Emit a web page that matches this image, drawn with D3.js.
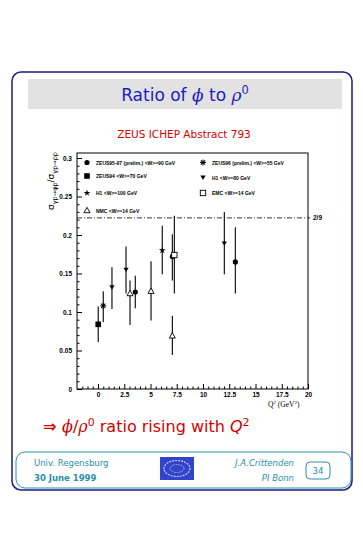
<!DOCTYPE html>
<html><head><meta charset="utf-8">
<script src="https://cdn.jsdelivr.net/npm/d3@7"></script>
<style>
html,body{margin:0;padding:0;background:#fff;}
svg{display:block;}
</style></head>
<body>
<svg id="c" width="363" height="535"></svg>
<script>
// ---- data ----
const xTicks = [0, 2.5, 5, 7.5, 10, 12.5, 15, 17.5, 20];
const xTickLabels = ["0", "2.5", "5", "7.5", "10", "12.5", "15", "17.5", "20"];
const yTicks = [0, 0.05, 0.1, 0.15, 0.2, 0.25, 0.3];
const yTickLabels = ["0", "0.05", "0.1", "0.15", "0.2", "0.25", "0.3"];
const refValue = 2 / 9;
const refLabel = "2/9";

const zeus9597 = [ {q:3.55, v:0.126, lo:0.105, hi:0.147}, {q:7.08, v:0.172, lo:0.141, hi:0.201}, {q:13.08, v:0.165, lo:0.124, hi:0.210} ];
const zeus94   = [ {q:0.02, v:0.084, lo:0.061, hi:0.107} ];
const h1w100   = [ {q:6.12, v:0.180, lo:0.149, hi:0.212} ];
const nmc      = [ {q:3.05, v:0.124, lo:0.083, hi:0.141}, {q:5.05, v:0.127, lo:0.089, hi:0.166}, {q:7.08, v:0.069, lo:0.044, hi:0.095} ];
const zeus96   = [ {q:0.50, v:0.108, lo:0.087, hi:0.127} ];
const h1w80    = [ {q:1.33, v:0.132, lo:0.104, hi:0.158}, {q:2.67, v:0.155, lo:0.124, hi:0.185}, {q:12.03, v:0.189, lo:0.149, hi:0.230} ];
const emc      = [ {q:7.27, v:0.174, lo:0.124, hi:0.225} ];

const seriesNames = ["ZEUS95-97 (prelim.) <W>=90 GeV", "ZEUS94 <W>=70 GeV", "H1 <W>=100 GeV", "NMC <W>=14 GeV",
                     "ZEUS96 (prelim.) <W>=55 GeV", "H1 <W>=80 GeV", "EMC <W>=14 GeV"];

// ---- page ----
const svg = d3.select("#c");
const navy = "#1a1a8a", teal = "#2a8fa8", red = "#d40000", blue = "#1c1cc0";

svg.append("rect").attr("x",12).attr("y",72).attr("width",340).attr("height",418)
  .attr("rx",9).attr("fill","none").attr("stroke",navy).attr("stroke-width",1.5);
svg.append("rect").attr("x",28).attr("y",79).attr("width",314).attr("height",30).attr("fill","#e2e2e2");
const title = svg.append("text").attr("x",185).attr("y",101).attr("text-anchor","middle")
  .attr("font-family","DejaVu Sans, sans-serif").attr("font-size",17).attr("fill",blue);
title.append("tspan").text("Ratio of ");
title.append("tspan").attr("font-style","italic").attr("font-family","DejaVu Serif, serif").text("ϕ");
title.append("tspan").text(" to ");
title.append("tspan").attr("font-style","italic").attr("font-family","DejaVu Serif, serif").text("ρ");
title.append("tspan").attr("font-size",11.5).attr("dy",-7).text("0");

svg.append("text").attr("x",184).attr("y",138).attr("text-anchor","middle")
  .attr("font-family","DejaVu Sans, sans-serif").attr("font-size",10.5).attr("fill",red).text("ZEUS ICHEP Abstract 793");

// ---- chart ----
const x = d3.scaleLinear().domain([-2, 20]).range([77, 308]);
const y = d3.scaleLinear().domain([0, 0.3065]).range([389, 153]);
const g = svg.append("g");

g.append("rect").attr("x",77).attr("y",153).attr("width",231).attr("height",236)
  .attr("fill","none").attr("stroke","#000").attr("stroke-width",1);

const fontAx = "Liberation Sans, Arial, sans-serif";
// minor ticks
const xMinor = d3.range(-1.5, 20.01, 0.5).filter(v => xTicks.indexOf(+v.toFixed(2)) < 0);
g.append("g").attr("transform","translate(0,389)")
  .call(d3.axisBottom(x).tickValues(xMinor).tickSize(-2.5).tickFormat(""))
  .call(a => a.select(".domain").remove());
const yMinor = d3.range(0.01, 0.3001, 0.01).filter(v => Math.round(v*1000) % 50 !== 0);
g.append("g").attr("transform","translate(77,0)")
  .call(d3.axisLeft(y).tickValues(yMinor).tickSize(-2.5).tickFormat(""))
  .call(a => a.select(".domain").remove());
// major
const xa = g.append("g").attr("transform","translate(0,389)")
  .call(d3.axisBottom(x).tickValues(xTicks).tickSize(-5).tickPadding(3)
    .tickFormat((d,i) => xTickLabels[i]));
xa.select(".domain").remove();
xa.selectAll("text").attr("font-family",fontAx).attr("font-size",6.5).attr("font-weight","bold");
const ya = g.append("g").attr("transform","translate(77,0)")
  .call(d3.axisLeft(y).tickValues(yTicks).tickSize(-5).tickPadding(5)
    .tickFormat((d,i) => yTickLabels[i]));
ya.select(".domain").remove();
ya.selectAll("text").attr("font-family",fontAx).attr("font-size",6.5).attr("font-weight","bold");

// reference line
g.append("line").attr("x1",77).attr("x2",310).attr("y1",y(refValue)).attr("y2",y(refValue))
  .attr("stroke","#000").attr("stroke-width",0.8).attr("stroke-dasharray","5,2,1,2");
g.append("text").attr("x",313).attr("y",y(refValue)+2.5).attr("font-family",fontAx)
  .attr("font-size",6.5).attr("font-weight","bold").text(refLabel);

// axis titles
const xt = g.append("text").attr("x",268).attr("y",407).attr("font-family","Liberation Serif, serif").attr("font-size",7.5);
xt.append("tspan").text("Q");
xt.append("tspan").attr("font-size",5).attr("dy",-3).text("2");
xt.append("tspan").attr("dy",3).text(" (GeV");
xt.append("tspan").attr("font-size",5).attr("dy",-3).text("2");
xt.append("tspan").attr("dy",3).text(")");

const yt = g.append("text").attr("transform","translate(54,152) rotate(-90)").attr("text-anchor","end")
  .attr("font-family","DejaVu Sans, sans-serif").attr("font-size",9);
yt.append("tspan").text("σ");
yt.append("tspan").attr("font-size",6.5).attr("dy",2.5).text("γp→φp");
yt.append("tspan").attr("dy",-2.5).text("/σ");
yt.append("tspan").attr("font-size",6.5).attr("dy",2.5).text("γp→ρp");

// symbols
function marker(sel, type) {
  if (type === "fcircle") sel.append("circle").attr("r",2.6).attr("fill","#000");
  else if (type === "fsquare") sel.append("rect").attr("x",-2.8).attr("y",-2.8).attr("width",5.6).attr("height",5.6).attr("fill","#000");
  else if (type === "star") sel.append("path").attr("d", d3.symbol(d3.symbolStar, 14)()).attr("fill","#000");
  else if (type === "otri") sel.append("path").attr("d","M0,-3.2L3,2.2L-3,2.2Z").attr("fill","#fff").attr("stroke","#000").attr("stroke-width",0.9);
  else if (type === "ast") {
    [0,45,90,135].forEach(a => sel.append("line").attr("x1",0).attr("y1",-3).attr("x2",0).attr("y2",3)
      .attr("transform","rotate("+a+")").attr("stroke","#000").attr("stroke-width",1));
  }
  else if (type === "dtri") sel.append("path").attr("d","M-2.6,-2L2.6,-2L0,2.4Z").attr("fill","#000");
  else if (type === "osquare") sel.append("rect").attr("x",-2.7).attr("y",-2.7).attr("width",5.4).attr("height",5.4).attr("fill","#fff").attr("stroke","#000").attr("stroke-width",0.9);
}

const all = [
  {d:zeus9597, t:"fcircle"}, {d:zeus94, t:"fsquare"}, {d:h1w100, t:"star"}, {d:nmc, t:"otri"},
  {d:zeus96, t:"ast"}, {d:h1w80, t:"dtri"}, {d:emc, t:"osquare"}
];
all.forEach(s => {
  s.d.forEach(p => {
    g.append("line").attr("x1",x(p.q)).attr("x2",x(p.q)).attr("y1",y(p.lo)).attr("y2",y(p.hi))
      .attr("stroke","#000").attr("stroke-width",1.1);
  });
});
all.forEach(s => {
  s.d.forEach(p => {
    marker(g.append("g").attr("transform",`translate(${x(p.q)},${y(p.v)})`), s.t);
  });
});

// legend
const legPos = [[87,162.5],[87,176],[87,193],[87,210.5],[203,162.5],[203,177.5],[203,193]];
all.forEach((s,i) => {
  const [lx,ly] = legPos[i];
  marker(g.append("g").attr("transform",`translate(${lx},${ly})`), s.t);
  g.append("text").attr("x",lx+9).attr("y",ly+2).attr("font-family",fontAx).attr("font-size",5)
    .attr("font-weight","bold").attr("fill","#000").text(seriesNames[i]);
});

// bottom statement
const st = svg.append("text").attr("x",43).attr("y",432).attr("font-family","DejaVu Sans, sans-serif")
  .attr("font-size",16).attr("fill",red);
st.append("tspan").attr("font-weight","bold").text("⇒ ");
st.append("tspan").attr("font-style","italic").attr("font-family","DejaVu Serif, serif").text("ϕ");
st.append("tspan").text("/");
st.append("tspan").attr("font-style","italic").attr("font-family","DejaVu Serif, serif").text("ρ");
st.append("tspan").attr("font-size",11).attr("dy",-6).text("0");
st.append("tspan").attr("dy",6).text(" ratio rising with ");
st.append("tspan").attr("font-style","italic").text("Q");
st.append("tspan").attr("font-size",11).attr("dy",-6).text("2");

// footer
svg.append("rect").attr("x",16).attr("y",452).attr("width",335).attr("height",36).attr("rx",9)
  .attr("fill","none").attr("stroke",teal).attr("stroke-width",1);
const ff = "DejaVu Sans, sans-serif";
svg.append("text").attr("x",34).attr("y",466).attr("font-family",ff).attr("font-size",8.5).attr("fill",teal).text("Univ.  Regensburg");
svg.append("text").attr("x",34).attr("y",481).attr("font-family",ff).attr("font-size",8.5).attr("font-weight","bold").attr("fill",teal).text("30 June 1999");
svg.append("text").attr("x",294).attr("y",466).attr("text-anchor","end").attr("font-family",ff).attr("font-style","italic").attr("font-size",8.5).attr("fill",teal).text("J.A.Crittenden");
svg.append("text").attr("x",294).attr("y",481).attr("text-anchor","end").attr("font-family",ff).attr("font-style","italic").attr("font-size",8.5).attr("fill",teal).text("PI Bonn");
svg.append("rect").attr("x",306).attr("y",462).attr("width",24).attr("height",17).attr("rx",4)
  .attr("fill","none").attr("stroke",teal).attr("stroke-width",1);
svg.append("text").attr("x",318).attr("y",474).attr("text-anchor","middle").attr("font-family",ff).attr("font-size",8.5).attr("fill",teal).text("34");
// logo
svg.append("rect").attr("x",160).attr("y",457).attr("width",34).attr("height",23).attr("fill","#3344cc");
svg.append("ellipse").attr("cx",177).attr("cy",468.5).attr("rx",13).attr("ry",8).attr("fill","none").attr("stroke","#c8ccf0").attr("stroke-width",1.2).attr("stroke-dasharray","2,1");
svg.append("ellipse").attr("cx",177).attr("cy",468.5).attr("rx",7).attr("ry",4).attr("fill","none").attr("stroke","#aab0ea").attr("stroke-width",1).attr("stroke-dasharray","1.5,1");
</script>
</body></html>
